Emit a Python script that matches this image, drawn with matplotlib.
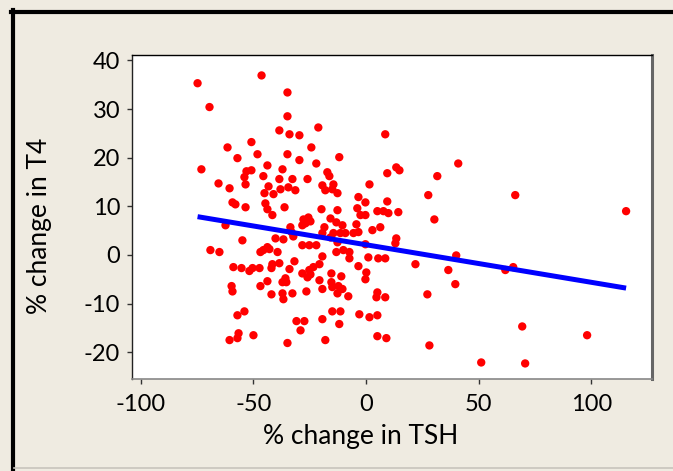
import numpy as np
import matplotlib
matplotlib.use("Agg")
import matplotlib.pyplot as plt
from matplotlib.lines import Line2D

# --- data: % change in TSH (x) vs % change in T4 (y) ---
tsh_change = [
    -74.7, -46.3, -34.8, -69.4, -34.8, -38.4, -33.9, -29.5, -21.1, 8.6,
    -61.4, -50.8, -24.2, -57.0, -48.1, -34.8, -29.5, -11.8, -73.0, -43.7,
    -37.0, -22.0, 13.5, 14.9, -53.0, -50.8, -53.9, -45.5, -38.4, -32.6,
    -25.9, -17.1, -16.2, 9.5, -65.4, -60.5, -53.4, -43.2, -37.9, -34.4,
    -31.3, -19.3, -18.0, -14.4, -14.9, -12.6, 1.6, 31.7, 41.0, -45.0,
    -41.0, -59.2, -57.9, -53.4, -44.6, -43.7, -36.1, -41.5, -19.7, -12.6,
    -3.3, -0.2, -3.8, 9.5, 5.1, 7.8, 10.0, 14.4, -2.4, -0.2,
    -15.7, -27.7, -25.5, -26.8, -24.6, -28.2, -13.1, -10.4, -4.2, -62.3,
    -33.5, -33.0, -32.2, -18.4, -19.3, -14.4, -11.3, -9.1, -5.5, -3.3,
    2.9, 6.4, -15.7, -12.6, -0.2, 13.5, 13.1, -54.8, -40.1, -36.6,
    -28.2, -25.1, -22.0, -69.0, -65.0, -46.8, -45.5, -43.7, -42.8, -39.2,
    -13.1, -10.0, -7.3, -7.3, -19.3, 1.1, 5.5, 8.6, 22.0, 40.1,
    36.6, 61.9, 65.4, 39.7, -31.7, -3.3, -20.6, -23.3, -25.1, -28.2,
    -25.9, -24.6, -15.3, -10.9, 0.2, -0.2, -20.6, -15.3, -14.9, -12.2,
    -10.4, -12.6, -7.8, -19.3, -26.4, -32.6, 5.1, 4.7, 8.6, 27.3,
    -14.9, -11.3, -2.9, 1.6, 5.1, -19.3, -30.8, -27.3, -11.8, -29.0,
    -18.0, 5.1, 9.1, 28.2, 69.4, 98.2, 51.2, 70.7, 30.4, 27.7,
    66.3, 115.5, -58.8, -55.2, -51.7, -50.3, -47.2, -41.9, -41.5, -38.4,
    -33.9, -59.6, -59.2, -46.8, -43.7, -41.9, -37.0, -36.6, -37.0, -35.7,
    -35.3, -57.0, -53.9, -56.5, -57.0, -60.5, -49.9, -34.8,
]
t4_change = [
    35.3, 36.9, 33.4, 30.4, 28.5, 25.6, 24.8, 24.6, 26.2, 24.8,
    22.1, 23.2, 22.1, 19.9, 20.7, 20.7, 19.5, 20.1, 17.6, 18.4,
    17.6, 18.8, 18.0, 17.4, 17.2, 17.4, 16.0, 16.2, 15.6, 15.6,
    15.6, 17.0, 16.2, 16.8, 14.7, 13.7, 14.5, 14.1, 13.5, 13.9,
    13.3, 14.3, 13.3, 14.5, 13.5, 12.7, 14.5, 16.2, 18.8, 12.7,
    12.5, 10.8, 10.4, 9.8, 10.6, 9.4, 9.8, 8.2, 9.4, 9.2,
    11.9, 10.8, 9.6, 11.0, 9.0, 9.0, 8.6, 8.8, 8.2, 8.2,
    7.5, 7.3, 7.7, 6.5, 6.9, 6.1, 6.7, 6.1, 6.3, 6.1,
    5.7, 4.7, 3.8, 5.7, 4.5, 4.5, 4.5, 4.5, 4.5, 4.7,
    5.1, 5.7, 3.6, 2.6, 2.2, 3.4, 2.4, 3.0, 3.4, 3.2,
    2.0, 2.0, 2.0, 1.0, 0.6, 0.6, 1.0, 1.6, 1.2, 0.6,
    0.6, 1.0, 0.6, -0.7, -0.3, -0.5, -0.7, -0.7, -1.9, -0.1,
    -3.1, -3.1, -2.5, -6.0, -1.3, -2.3, -1.9, -2.5, -3.1, -3.8,
    -4.6, -4.0, -3.8, -4.4, -3.6, -5.0, -5.2, -5.6, -6.6, -6.4,
    -7.0, -7.9, -8.5, -7.0, -7.5, -7.9, -7.7, -8.7, -8.7, -8.1,
    -11.6, -11.6, -12.2, -12.8, -12.4, -13.2, -13.6, -13.6, -14.2, -15.5,
    -17.5, -16.7, -17.1, -18.6, -14.7, -16.5, -22.1, -22.3, 7.3, 12.3,
    12.3, 9.0, -2.5, -2.7, -3.3, -2.7, -2.7, -2.7, -1.9, -1.7,
    -2.9, -6.4, -7.5, -6.4, -5.4, -8.1, -7.9, -9.1, -5.6, -4.8,
    -5.6, -12.4, -11.6, -16.1, -17.1, -17.5, -16.5, -18.1,
]

# fitted regression line (intercept, slope)
fit_intercept = 2.1
fit_slope = -0.0772

x_ticks = [-100, -50, 0, 50, 100]
y_ticks = [-20, -10, 0, 10, 20, 30, 40]

BG = "#EFEBE1"
plt.rcParams["font.family"] = ["Lato", "DejaVu Sans"]
plt.rcParams["axes.unicode_minus"] = False

fig = plt.figure(figsize=(6.73, 4.71), dpi=100, facecolor=BG)
ax = fig.add_axes([132 / 673, 1 - 379 / 471, (652 - 132) / 673, (379 - 55) / 471])
ax.set_facecolor("white")

x = np.array(tsh_change)
y = np.array(t4_change)
ax.scatter(x, y, s=36, color="#FF0000", edgecolors="none", zorder=3)

xl = np.array([x.min(), x.max()])
ax.plot(xl, fit_intercept + fit_slope * xl, color="#0000FF", lw=3.6,
        solid_capstyle="butt", zorder=4)

ax.set_xlim(-103.8, 127.0)
ax.set_ylim(-25.5, 41.1)
ax.set_xticks(x_ticks)
ax.set_yticks(y_ticks)
ax.tick_params(axis="both", direction="out", length=3.6, width=1, color="#333333",
               labelsize=17, labelcolor="black")
ax.tick_params(axis="y", pad=5)
ax.tick_params(axis="x", pad=7)

ax.spines["top"].set_color("black")
ax.spines["left"].set_color("#222222")
ax.spines["right"].set_color("#666666")
ax.spines["right"].set_linewidth(2.2)
ax.spines["bottom"].set_color("#888888")
for s in ["top", "left"]:
    ax.spines[s].set_linewidth(1.0)
ax.spines["bottom"].set_linewidth(1.2)

ax.set_xlabel("% change in TSH", fontsize=19)
ax.set_ylabel("% change in T4", fontsize=19)
ax.xaxis.set_label_coords((361 - 132) / 520, (379 - 424) / 324)
ax.yaxis.set_label_coords((52 - 132) / 520, (379 - 226) / 324)

# outer frame
fig.add_artist(Line2D([12.5 / 673, 12.5 / 673], [0, 1 - 10 / 471],
                      transform=fig.transFigure, color="black", lw=3))
fig.add_artist(Line2D([10.5 / 673, 1], [1 - 12 / 471, 1 - 12 / 471],
                      transform=fig.transFigure, color="black", lw=3))
fig.add_artist(Line2D([14 / 673, 1], [3 / 471, 3 / 471],
                      transform=fig.transFigure, color="#C8C4BC", lw=1.2))

fig.savefig("out.png", dpi=100, facecolor=BG)
